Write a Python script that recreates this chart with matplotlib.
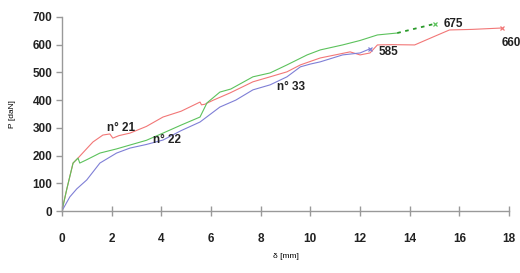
import matplotlib
matplotlib.use("Agg")
import matplotlib.pyplot as plt

# n° 21 (red)
x21 = [0, 0.2, 0.45, 0.65, 1.0, 1.25, 1.65, 1.93, 2.05, 2.3, 2.74, 3.4, 4.07, 4.8,
       5.56, 5.62, 5.75, 6.1, 6.77, 7.69, 8.38, 9.06, 9.6, 10.4, 11.0, 11.6, 12.0,
       12.4, 12.7, 13.3, 14.2, 15.0, 15.6, 16.5, 17.7]
y21 = [0, 80, 173, 191, 225, 249, 274, 278, 263, 272, 281, 305, 339, 360,
       393, 383, 385, 400, 426, 466, 484, 502, 527, 552, 563, 574, 563,
       570, 599, 600, 599, 630, 653, 655, 660]

# n° 22 (green)
x22 = [0, 0.2, 0.45, 0.65, 0.72, 1.0, 1.53, 2.2, 2.74, 3.4, 4.07, 4.8, 5.56, 5.84,
       6.36, 6.8, 7.69, 8.38, 9.06, 9.87, 10.4, 11.3, 12.0, 12.7, 13.5]
y22 = [0, 80, 173, 191, 173, 185, 209, 224, 238, 255, 281, 310, 339, 390,
       429, 440, 484, 498, 527, 563, 581, 599, 615, 635, 642]
x22_end = [13.5, 15.0]
y22_end = [642, 675]

# n° 33 (blue)
x33 = [0, 0.32, 0.6, 1.0, 1.53, 2.2, 2.74, 3.4, 4.07, 4.8, 5.56, 6.36, 7.0, 7.69,
       8.38, 9.06, 9.6, 10.0, 10.4, 11.3, 12.0, 12.4]
y33 = [0, 51, 80, 112, 173, 209, 227, 240, 256, 290, 321, 375, 400, 437,
       455, 484, 520, 530, 538, 563, 570, 585]

red, green, blue = '#f27777', '#5cc25c', '#7f7fd6'

plt.rcParams['font.family'] = ['Liberation Sans', 'DejaVu Sans']

fig = plt.figure(figsize=(5.2, 2.73), dpi=100)
ax = fig.add_axes([0.119, 0.227, 0.860, 0.711])

ax.plot(x21, y21, color=red, lw=0.8)
ax.plot(x22, y22, color=green, lw=0.8)
ax.plot(x22_end, y22_end, color='#2a9a2a', lw=1.3, ls=(0, (2, 2.5)))
ax.plot(x33, y33, color=blue, lw=0.8)

ax.plot(x21[-1], y21[-1], 'x', color=red, ms=3.5, mew=0.9)
ax.plot(x22_end[-1], y22_end[-1], 'x', color=green, ms=3.5, mew=0.9)
ax.plot(x33[-1], y33[-1], 'x', color=blue, ms=3.5, mew=0.9)

tkw = dict(fontsize=8.5, fontweight='bold', color='#222222')
ax.text(12.75, 574, '585', va='center', **tkw)
ax.text(15.35, 675, '675', va='center', **tkw)
ax.text(17.7, 606, '660', va='center', clip_on=False, **tkw)
ax.text(1.8, 300, 'n° 21', va='center', **tkw)
ax.text(3.66, 256, 'n° 22', va='center', **tkw)
ax.text(8.66, 447, 'n° 33', va='center', **tkw)

ax.set_xlim(0, 18)
ax.set_ylim(0, 700)
ax.set_xticks(range(0, 19, 2))
ax.set_yticks(range(0, 701, 100))
for s in ['top', 'right']:
    ax.spines[s].set_visible(False)
for s in ['left', 'bottom']:
    ax.spines[s].set_color('#999999')
    ax.spines[s].set_linewidth(1)
ax.tick_params(axis='x', direction='inout', length=7, width=1, color='#999999',
               pad=12, labelsize=8.5)
ax.tick_params(axis='y', direction='out', length=4, width=1, color='#999999',
               pad=3, labelsize=8.5)
for lab in ax.get_xticklabels() + ax.get_yticklabels():
    lab.set_fontweight('bold')
    lab.set_color('#222222')

ax.set_ylabel('P [daN]', fontsize=6, labelpad=12)
ax.set_xlabel('δ [mm]', fontsize=6, labelpad=6)

fig.savefig('out.png', dpi=100)
